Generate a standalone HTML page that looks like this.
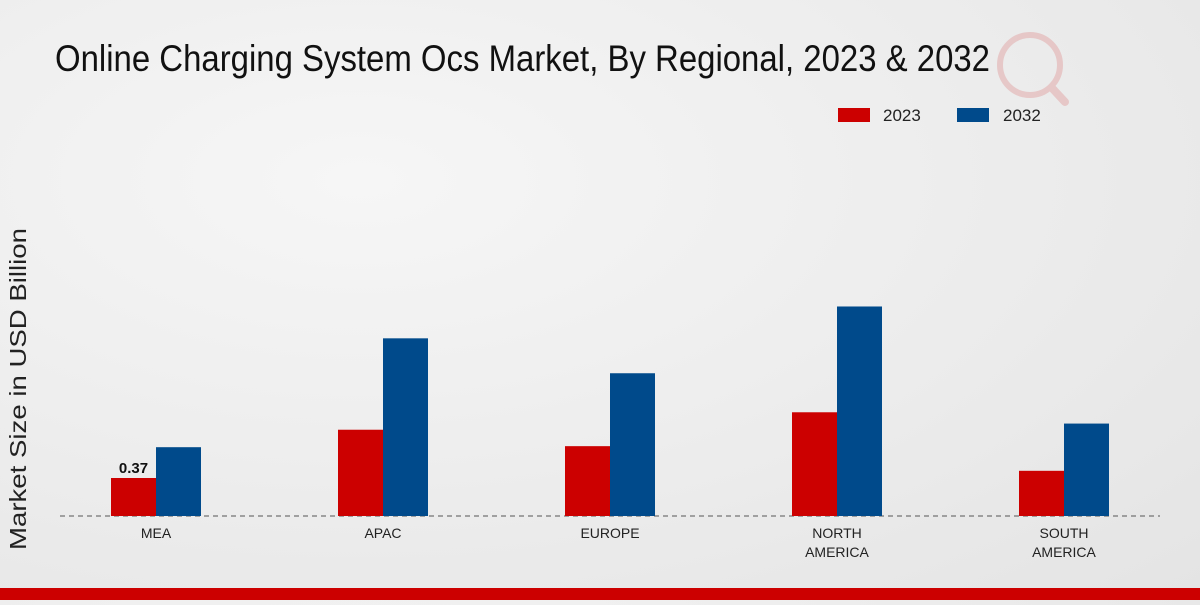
<!DOCTYPE html>
<html><head><meta charset="utf-8"><style>
body{margin:0;width:1200px;height:600px;overflow:hidden;background:radial-gradient(ellipse at 30% 30%,#f6f6f6,#e4e4e4);font-family:"Liberation Sans",sans-serif}
</style></head><body>
<svg width="1200" height="600">
<text x="55" y="71" font-size="37" textLength="935" lengthAdjust="spacingAndGlyphs" fill="#111">Online Charging System Ocs Market, By Regional, 2023 &amp; 2032</text>
<g opacity="0.15">
<circle cx="1030" cy="65" r="30" fill="none" stroke="#cc0000" stroke-width="6"/>
<line x1="1052" y1="88" x2="1065" y2="102" stroke="#cc0000" stroke-width="8" stroke-linecap="round"/>
</g>
<g>
<rect x="838" y="108" width="32" height="14" fill="#cc0000"/>
<text x="883" y="121" font-size="17" fill="#222">2023</text>
<rect x="957" y="108" width="32" height="14" fill="#004a8b"/>
<text x="1003" y="121" font-size="17" fill="#222">2032</text>
</g>
<text transform="translate(26,389) rotate(-90)" text-anchor="middle" font-size="23" textLength="322" lengthAdjust="spacingAndGlyphs" fill="#222">Market Size in USD Billion</text>
<line x1="60" y1="516" x2="1160" y2="516" stroke="#555" stroke-dasharray="5,4"/>
<g id="bars"></g>
<rect x="0" y="588" width="1200" height="12" fill="#cc0000"/>
</svg>
<script>
const categories=[["MEA"],["APAC"],["EUROPE"],["NORTH","AMERICA"],["SOUTH","AMERICA"]];
const values2023=[0.37,0.84,0.68,1.01,0.44];
const values2032=[0.67,1.73,1.39,2.04,0.90];
const base=516,pxPer=38/0.37,x0=156,step=227,bw=45;
const y=v=>base-v*pxPer;
const g=document.getElementById('bars');
const ns='http://www.w3.org/2000/svg';
categories.forEach((c,i)=>{
  const cx=x0+i*step;
  [[values2023[i],'#cc0000',cx-bw,'2023'],[values2032[i],'#004a8b',cx,'2032']].forEach(([v,col,x,s])=>{
    const r=document.createElementNS(ns,'rect');
    r.setAttribute('x',x);r.setAttribute('y',y(v));r.setAttribute('width',bw);r.setAttribute('height',base-y(v));r.setAttribute('fill',col);
    
    
    g.appendChild(r);
  });
  c.forEach((line,j)=>{
    const t=document.createElementNS(ns,'text');
    t.setAttribute('x',cx);t.setAttribute('y',538+j*19);t.setAttribute('text-anchor','middle');t.setAttribute('font-size','14');t.setAttribute('fill','#222');
    t.textContent=line;
    
    
    g.appendChild(t);
  });
});
const lbl=document.createElementNS(ns,'text');
lbl.setAttribute('x',x0-bw/2);lbl.setAttribute('y',y(values2023[0])-5);lbl.setAttribute('text-anchor','middle');lbl.setAttribute('font-size','15');lbl.setAttribute('font-weight','bold');lbl.setAttribute('fill','#111');
lbl.textContent=values2023[0].toFixed(2);


g.appendChild(lbl);
</script>
</body></html>
